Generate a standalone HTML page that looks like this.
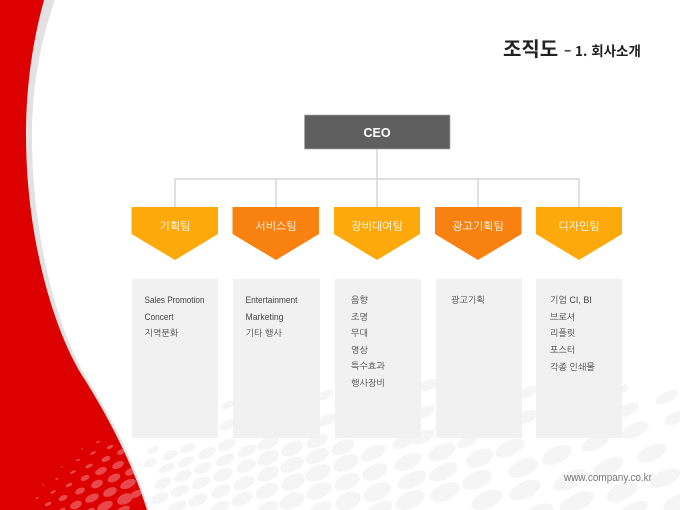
<!DOCTYPE html>
<html lang="ko">
<head>
<meta charset="utf-8">
<title>조직도</title>
<style>
html,body{margin:0;padding:0;background:#fff;width:680px;height:510px;overflow:hidden}
svg{display:block}
text{font-family:"Liberation Sans","NanumGothic","Noto Sans CJK KR",sans-serif}
.d ellipse{transform-box:fill-box;transform-origin:center;transform:rotate(-25deg) scale(1.04,.84)}
.t{font-size:11px;fill:#fff;text-anchor:middle;font-family:"NanumGothic","Noto Sans CJK KR",sans-serif}
.l{font-size:9px;fill:#444;font-family:"Liberation Sans","NanumGothic","Noto Sans CJK KR",sans-serif}
</style>
</head>
<body>
<svg width="680" height="510" viewBox="0 0 680 510" xmlns="http://www.w3.org/2000/svg">
<defs>
<clipPath id="red"><path d="M0,0 L44,0 C33,40 26,85 26,135 C26,240 55,335 85,380 C110,420 133,465 147,510 L0,510 Z"/></clipPath>
</defs>
<rect width="680" height="510" fill="#fff"/>

<g class="d" fill="#f5f5f5">
<ellipse cx="153" cy="450" rx="6" ry="4"/><ellipse cx="170" cy="455" rx="7.5" ry="5"/><ellipse cx="188" cy="448" rx="8" ry="5"/>
<ellipse cx="207" cy="453" rx="9" ry="6"/><ellipse cx="227" cy="445" rx="9.5" ry="6"/><ellipse cx="247" cy="451" rx="10" ry="6"/>
<ellipse cx="150" cy="463" rx="7" ry="5"/><ellipse cx="167" cy="468" rx="8" ry="5"/><ellipse cx="186" cy="462" rx="9" ry="5"/>
<ellipse cx="203" cy="468" rx="9" ry="6"/><ellipse cx="225" cy="460" rx="10" ry="6"/><ellipse cx="246" cy="466" rx="10" ry="7"/>
<ellipse cx="163" cy="483" rx="9" ry="6"/><ellipse cx="183" cy="476" rx="9" ry="6"/><ellipse cx="201" cy="483" rx="9.5" ry="6"/>
<ellipse cx="223" cy="475" rx="10" ry="7"/><ellipse cx="244" cy="483" rx="11" ry="7"/><ellipse cx="160" cy="498" rx="9" ry="6"/>
<ellipse cx="180" cy="491" rx="9.5" ry="6"/><ellipse cx="198" cy="500" rx="10" ry="6.5"/><ellipse cx="221" cy="491" rx="10" ry="7"/>
<ellipse cx="242" cy="499" rx="11" ry="7.5"/><ellipse cx="177" cy="507" rx="10" ry="6"/><ellipse cx="220" cy="507" rx="10" ry="6"/>
<ellipse cx="268" cy="443" rx="11" ry="7"/><ellipse cx="292" cy="449" rx="11" ry="8"/><ellipse cx="317" cy="441" rx="11" ry="7"/>
<ellipse cx="343" cy="447" rx="12" ry="8"/><ellipse cx="373" cy="453" rx="13" ry="8"/><ellipse cx="268" cy="458" rx="11" ry="8"/>
<ellipse cx="292" cy="465" rx="12" ry="8"/><ellipse cx="317" cy="456" rx="12" ry="8"/><ellipse cx="346" cy="463" rx="13" ry="9"/>
<ellipse cx="375" cy="472" rx="13" ry="9"/><ellipse cx="268" cy="474" rx="11" ry="8"/><ellipse cx="293" cy="482" rx="12" ry="9"/>
<ellipse cx="318" cy="473" rx="13" ry="9"/><ellipse cx="347" cy="482" rx="13" ry="9"/><ellipse cx="377" cy="492" rx="14" ry="10"/>
<ellipse cx="267" cy="491" rx="12" ry="8"/><ellipse cx="292" cy="501" rx="13" ry="9"/><ellipse cx="319" cy="491" rx="13" ry="9"/>
<ellipse cx="348" cy="501" rx="13" ry="10"/><ellipse cx="268" cy="508" rx="11" ry="7"/><ellipse cx="320" cy="509" rx="12" ry="7"/>
<ellipse cx="380" cy="509" rx="13" ry="8"/>
<ellipse cx="403" cy="442" rx="11" ry="7"/>
<ellipse cx="408" cy="462" rx="14" ry="9"/><ellipse cx="412" cy="480" rx="15" ry="9"/><ellipse cx="410" cy="500" rx="15" ry="10"/>
<ellipse cx="442" cy="452" rx="14" ry="9"/><ellipse cx="443" cy="472" rx="15" ry="9"/><ellipse cx="445" cy="492" rx="15" ry="10"/>
<ellipse cx="467" cy="442" rx="10" ry="6"/><ellipse cx="480" cy="458" rx="14" ry="10"/><ellipse cx="477" cy="480" rx="15" ry="10"/>
<ellipse cx="487" cy="500" rx="16" ry="10"/><ellipse cx="510" cy="448" rx="15" ry="9"/><ellipse cx="523" cy="468" rx="15" ry="10"/>
<ellipse cx="525" cy="490" rx="16" ry="10"/><ellipse cx="537" cy="514" rx="17" ry="10"/><ellipse cx="557" cy="455" rx="15" ry="10"/>
<ellipse cx="570" cy="480" rx="17" ry="10"/><ellipse cx="577" cy="502" rx="18" ry="10"/><ellipse cx="595" cy="443" rx="14" ry="8"/>
<ellipse cx="608" cy="467" rx="16" ry="9"/><ellipse cx="622" cy="492" rx="16" ry="10"/><ellipse cx="635" cy="430" rx="14" ry="8"/>
<ellipse cx="627" cy="410" rx="12" ry="7"/><ellipse cx="652" cy="453" rx="15" ry="9"/><ellipse cx="665" cy="478" rx="16" ry="9"/>
<ellipse cx="667" cy="397" rx="12" ry="6"/><ellipse cx="675" cy="418" rx="11" ry="7"/><ellipse cx="677" cy="503" rx="14" ry="9"/>
<ellipse cx="633" cy="510" rx="16" ry="8"/><ellipse cx="620" cy="390" rx="9" ry="5"/>
<ellipse cx="425" cy="412" rx="10" ry="6"/><ellipse cx="423" cy="437" rx="12" ry="7"/><ellipse cx="428" cy="385" rx="10" ry="6"/>
<ellipse cx="527" cy="417" rx="11" ry="7"/><ellipse cx="528" cy="392" rx="10" ry="6"/><ellipse cx="327" cy="420" rx="10" ry="6"/>
<ellipse cx="325" cy="395" rx="9" ry="5"/><ellipse cx="227" cy="425" rx="8" ry="5"/><ellipse cx="228" cy="405" rx="7" ry="4"/>
</g>

<path d="M55,0 C41,40 32,85 32,135 C32,240 59,335 88,380 C113,420 136,465 149,510 L0,510 L0,0 Z" fill="#e2e2e2"/>
<path d="M0,0 L44,0 C33,40 26,85 26,135 C26,240 55,335 85,380 C110,420 133,465 147,510 L0,510 Z" fill="#dd0000"/>
<g class="d" fill="#e8484a" clip-path="url(#red)">
<ellipse cx="110" cy="447" rx="3.5" ry="2"/><ellipse cx="98" cy="442" rx="2" ry="1"/><ellipse cx="93" cy="453" rx="3" ry="1.5"/>
<ellipse cx="82" cy="449" rx="1" ry="0.7"/><ellipse cx="106" cy="459" rx="4.5" ry="3"/><ellipse cx="121" cy="452" rx="4" ry="3"/>
<ellipse cx="118" cy="465" rx="6" ry="4"/><ellipse cx="101" cy="471" rx="6" ry="4"/><ellipse cx="89" cy="466" rx="4" ry="2"/>
<ellipse cx="78" cy="460" rx="2" ry="1"/><ellipse cx="130" cy="472" rx="5" ry="4"/><ellipse cx="114" cy="478" rx="6.5" ry="4.5"/>
<ellipse cx="85" cy="478" rx="4.5" ry="3"/><ellipse cx="73" cy="472" rx="3" ry="1.5"/><ellipse cx="62" cy="467" rx="1" ry="0.7"/>
<ellipse cx="97" cy="484" rx="6" ry="4.5"/><ellipse cx="128" cy="484" rx="8" ry="5"/><ellipse cx="110" cy="492" rx="7" ry="5"/>
<ellipse cx="80" cy="491" rx="5" ry="3.5"/><ellipse cx="69" cy="485" rx="3.5" ry="2"/><ellipse cx="57" cy="479" rx="1.7" ry="1"/>
<ellipse cx="136" cy="494" rx="6" ry="4"/><ellipse cx="125" cy="499" rx="8" ry="6"/><ellipse cx="92" cy="498" rx="7" ry="4.5"/>
<ellipse cx="63" cy="498" rx="4.5" ry="3"/><ellipse cx="53" cy="492" rx="3" ry="1.5"/><ellipse cx="43" cy="485" rx="1" ry="0.7"/>
<ellipse cx="105" cy="506" rx="8" ry="5"/><ellipse cx="76" cy="505" rx="6" ry="4.5"/><ellipse cx="48" cy="504" rx="3.5" ry="2"/>
<ellipse cx="37" cy="498" rx="1.7" ry="1"/><ellipse cx="123" cy="510" rx="7" ry="4"/><ellipse cx="90" cy="511" rx="5" ry="3"/>
<ellipse cx="62" cy="510" rx="3.5" ry="2"/>
</g>

<text x="503" y="56" font-size="20" font-weight="700" fill="#222" style="font-family:'Noto Sans CJK KR',sans-serif">조직도</text>
<text x="564" y="56" font-size="13.5" font-weight="700" fill="#222" style="font-family:'Noto Sans CJK KR',sans-serif">– 1. 회사소개</text>

<g fill="none" stroke="#d2d2d2" stroke-width="1.4">
<path d="M377,149 V207 M175,207 V179 H579 V207 M276,179 V207 M478,179 V207"/>
</g>
<rect x="304.5" y="115" width="145.5" height="34" fill="#5f5f5f" stroke="#a8a8a8" stroke-width="0.7"/>
<text x="377" y="137" font-size="12.5" font-weight="700" fill="#fff" text-anchor="middle">CEO</text>

<polygon points="131.5,207 218,207 218,234 175,260 131.5,234" fill="#fda90b"/>
<polygon points="232.5,207 319,207 319,234 276,260 232.5,234" fill="#f8810f"/>
<polygon points="334,207 420,207 420,234 377,260 334,234" fill="#fda90b"/>
<polygon points="435,207 521.5,207 521.5,234 478,260 435,234" fill="#f8810f"/>
<polygon points="536,207 622,207 622,234 579,260 536,234" fill="#fda90b"/>
<text class="t" x="175" y="230">기획팀</text>
<text class="t" x="276" y="230">서비스팀</text>
<text class="t" x="377" y="230">장비대여팀</text>
<text class="t" x="478" y="230">광고기획팀</text>
<text class="t" x="579" y="230">디자인팀</text>

<g fill="#f1f1f1">
<rect x="132" y="279" width="86" height="159"/>
<rect x="233" y="279" width="87" height="159"/>
<rect x="335" y="279" width="86" height="159"/>
<rect x="436" y="279" width="86" height="159"/>
<rect x="536" y="279" width="86" height="159"/>
</g>

<text class="l" x="144.5" y="303" textLength="60" lengthAdjust="spacingAndGlyphs">Sales Promotion</text>
<text class="l" x="144.5" y="320" textLength="29" lengthAdjust="spacingAndGlyphs">Concert</text>
<text class="l" x="144.5" y="336">지역문화</text>
<text class="l" x="245.5" y="303" textLength="52" lengthAdjust="spacingAndGlyphs">Entertainment</text>
<text class="l" x="245.5" y="320" textLength="38" lengthAdjust="spacingAndGlyphs">Marketing</text>
<text class="l" x="245.5" y="336">기타 행사</text>
<text class="l" x="351" y="303">음향</text>
<text class="l" x="351" y="320">조명</text>
<text class="l" x="351" y="336">무대</text>
<text class="l" x="351" y="353">영상</text>
<text class="l" x="351" y="369">특수효과</text>
<text class="l" x="351" y="386">행사장비</text>
<text class="l" x="451" y="303">광고기획</text>
<text class="l" x="550" y="303">기업 CI, BI</text>
<text class="l" x="550" y="320">브로셔</text>
<text class="l" x="550" y="336">리플릿</text>
<text class="l" x="550" y="353">포스터</text>
<text class="l" x="550" y="370">각종 인쇄물</text>

<text x="564" y="481" font-size="11" fill="#777" textLength="88" lengthAdjust="spacingAndGlyphs">www.company.co.kr</text>
</svg>
</body>
</html>
